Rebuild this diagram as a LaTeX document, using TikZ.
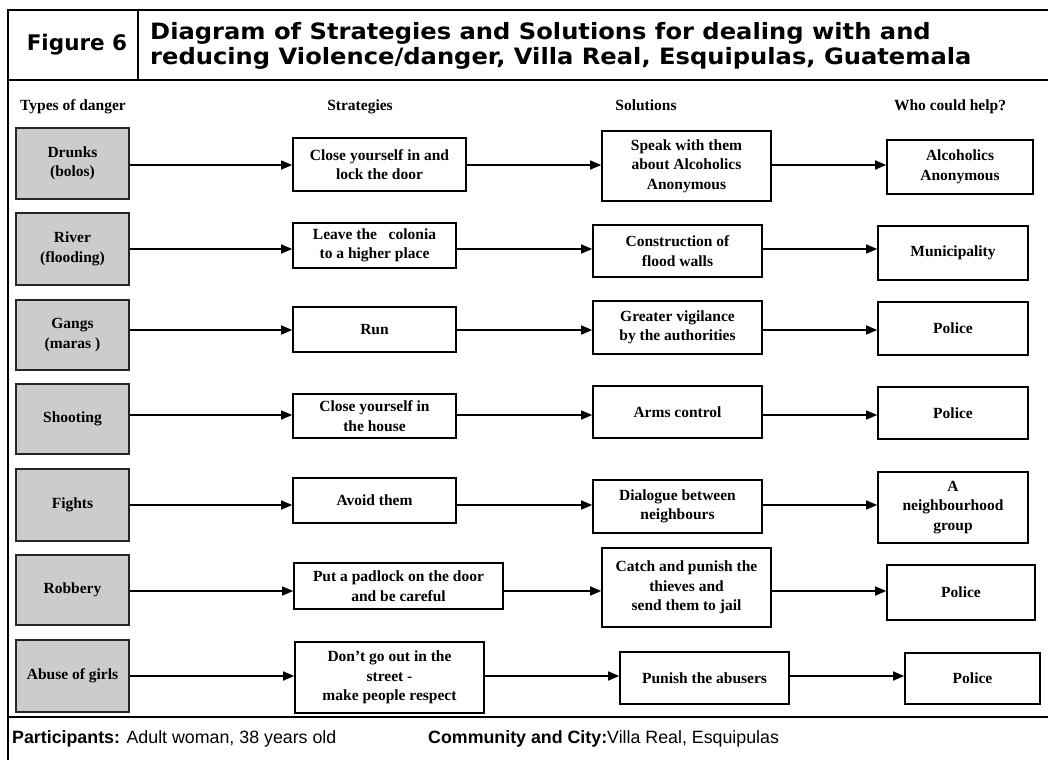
\documentclass[tikz,border=0pt]{standalone}
\usepackage{fontspec}
\usepackage{graphicx}
\setmainfont{Liberation Serif}
\newfontfamily\hdrfont{DejaVu Sans}
\newfontfamily\ftrfont{Liberation Sans}
\usetikzlibrary{arrows.meta}
\newcommand\bx[7]{\node[#1, minimum width={(#5-#4)*1pt}, minimum height={(#7-#6)*1pt}] (#2) at ({(#4+#5)/2},{(#6+#7)/2}) {#3};}
\begin{document}
\begin{tikzpicture}[x=1pt,y=-1pt,
  box/.style={draw=black, line width=1.6pt, inner sep=2pt, align=center, font=\fontsize{15.5}{19.5}\selectfont\bfseries},
  dbox/.style={box, fill=gray!40, draw=black!85},
  wbox/.style={box, fill=white},
  arr/.style={line width=1.4pt, -{Triangle[length=11pt,width=9pt]}},
  frameline/.style={line width=1.8pt},
  colhead/.style={font=\fontsize{15.5}{17}\selectfont\bfseries, inner sep=0pt, anchor=base},
  ftr/.style={font=\ftrfont\fontsize{17.8}{20}\selectfont, inner sep=0pt, anchor=base west}]
\useasboundingbox (0,0) rectangle (1048,760);
\fill[white] (0,0) rectangle (1048,760);

% frame
\draw[frameline] (8,760) -- (8,10) -- (1048,10);
\draw[frameline] (8,80) -- (1048,80);
\draw[frameline] (138,10) -- (138,80);
\draw[frameline] (8,717) -- (1048,717);

% header
\node[font=\hdrfont\bfseries\fontsize{21.5}{23}\selectfont, inner sep=0pt] (fig) at (77,45) {Figure 6};
\node[font=\hdrfont\bfseries\fontsize{22.5}{24}\selectfont, inner sep=0pt, anchor=west] (title) at (150,47)
  {\scalebox{1.075}[1]{\begin{tabular}{@{}l@{}}Diagram of Strategies and Solutions for dealing with and\\reducing Violence/danger, Villa Real, Esquipulas, Guatemala\end{tabular}}};

% column heads
\node[colhead, anchor=base west] (h1) at (20,110) {Types of danger};
\node[colhead] (h2) at (360,110) {Strategies};
\node[colhead] (h3) at (646,110) {Solutions};
\node[colhead] (h4) at (950,110) {Who could help?};

% danger boxes
\bx{dbox}{d1}{Drunks\\(bolos)}{16}{129}{128}{199}
\bx{dbox}{d2}{River\\(flooding)}{16}{129}{213}{285}
\bx{dbox}{d3}{Gangs\\(maras )}{16}{129}{300}{370}
\bx{dbox}{d4}{Shooting}{16}{129}{384}{454}
\bx{dbox}{d5}{Fights}{16}{129}{469}{541}
\bx{dbox}{d6}{Robbery}{16}{129}{555}{625}
\bx{dbox}{d7}{Abuse of girls}{16}{129}{640}{712}

% strategies
\bx{wbox}{s1}{Close yourself in and\\lock the door}{293}{466}{138}{191}
\bx{wbox}{s2}{Leave the \ \ colonia\\to a higher place}{293}{456}{223}{268}
\bx{wbox}{s3}{Run}{293}{456}{307}{352}
\bx{wbox}{s4}{Close yourself in\\the house}{293}{456}{394}{438}
\bx{wbox}{s5}{Avoid them}{293}{456}{478}{523}
\bx{wbox}{s6}{Put a padlock on the door\\and be careful}{294}{503}{563}{609}
\bx{wbox}{s7}{Don't go out in the\\street -\\make people respect}{295}{484}{642}{713}

% solutions
\bx{wbox}{l1}{Speak with them\\about Alcoholics\\Anonymous}{602}{771}{131}{201}
\bx{wbox}{l2}{Construction of\\flood walls}{593}{762}{225}{277}
\bx{wbox}{l3}{Greater vigilance\\by the authorities}{593}{762}{301}{354}
\bx{wbox}{l4}{Arms control}{593}{762}{386}{438}
\bx{wbox}{l5}{Dialogue between\\neighbours}{593}{762}{480}{533}
\bx{wbox}{l6}{Catch and punish the\\thieves and\\send them to jail}{602}{771}{548}{627}
\bx{wbox}{l7}{Punish the abusers}{620}{789}{652}{704}

% who could help
\bx{wbox}{w1}{Alcoholics\\Anonymous}{887}{1033}{140}{194}
\bx{wbox}{w2}{Municipality}{878}{1028}{226}{280}
\bx{wbox}{w3}{Police}{878}{1028}{302}{355}
\bx{wbox}{w4}{Police}{878}{1028}{387}{439}
\bx{wbox}{w5}{A\\neighbourhood\\group}{878}{1028}{472}{543}
\bx{wbox}{w6}{Police}{887}{1035}{565}{620}
\bx{wbox}{w7}{Police}{905}{1040}{653}{704}

% row levels
\coordinate (r1) at (0,165);
\coordinate (r2) at (0,249);
\coordinate (r3) at (0,330);
\coordinate (r4) at (0,415);
\coordinate (r5) at (0,505);
\coordinate (r6) at (0,591);
\coordinate (r7) at (0,676);

\foreach \i in {1,...,7}{
  \draw[arr] (d\i.east |- r\i) -- (s\i.west |- r\i);
  \draw[arr] (s\i.east |- r\i) -- (l\i.west |- r\i);
  \draw[arr] (l\i.east |- r\i) -- (w\i.west |- r\i);
}

% footer
\node[ftr] (part) at (12,743) {\textbf{Participants:} Adult woman, 38 years old};
\node[ftr] (comm) at (428,743) {\textbf{Community and City:}Villa Real, Esquipulas};
\end{tikzpicture}
\end{document}
